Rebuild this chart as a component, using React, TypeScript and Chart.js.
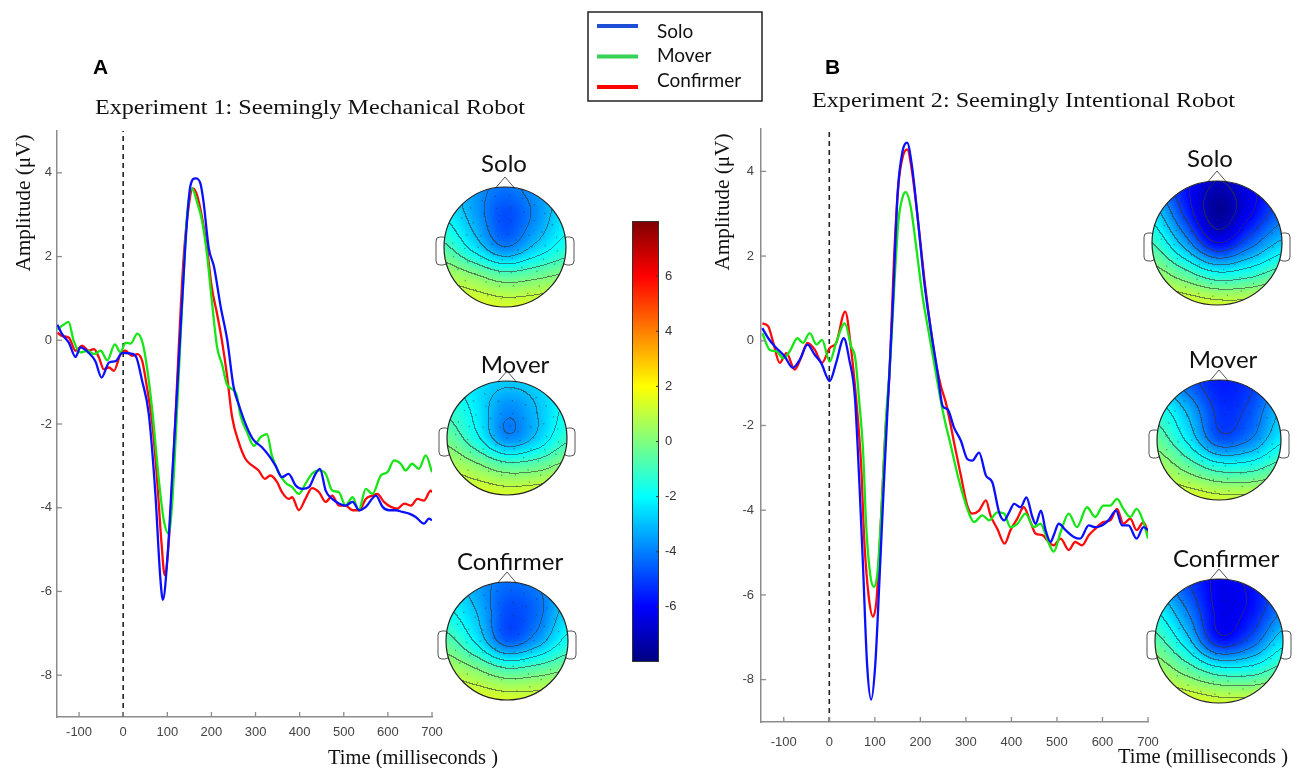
import React, { useEffect, useRef } from 'react';
import { Chart, registerables } from 'chart.js';

Chart.register(...registerables);

const W = 1295;
const H = 768;

// ---------- labels / ticks ----------
const SERIES_LABELS = ['Solo', 'Mover', 'Confirmer'];
const LINE_COLORS = ['#0a10ff', '#16e616', '#ff0a0a'];
const LEGEND_COLORS = ['#1f4fd6', '#35d256', '#ff0000'];
const X_TICKS = [-100, 0, 100, 200, 300, 400, 500, 600, 700];
const Y_TICKS = [-8, -6, -4, -2, 0, 2, 4];
const CBAR_TICKS = [-6, -4, -2, 0, 2, 4, 6];
const X_RANGE = [-150, 700];
const Y_RANGE = [-9, 5];
const CBAR_RANGE = [-8, 8];
const TITLE_A = 'Experiment 1: Seemingly Mechanical Robot';
const TITLE_B = 'Experiment 2: Seemingly Intentional Robot';
const Y_TITLE = 'Amplitude (\u03bcV)';
const X_TITLE = 'Time (milliseconds )';

// ---------- Experiment 1 waveforms (ms, µV) ----------
const A_SOLO_T = [-149, -138, -123, -108, -97, -78, -63, -49, -32, -17, -2, 13, 28, 43, 58, 73, 84, 90, 100, 111, 126, 141, 152, 164, 175, 182, 194, 206, 221, 236, 250, 264, 279, 294, 315, 330, 345, 360, 375, 391, 406, 421, 436, 446, 459, 474, 489, 504, 520, 535, 550, 573, 588, 603, 618, 633, 648, 663, 682, 693, 700];
const A_SOLO_V = [0.37, 0.14, -0.06, -0.4, -0.17, -0.3, -0.5, -0.89, -0.53, -0.5, -0.3, -0.31, -0.37, -0.97, -1.76, -3.67, -5.65, -6.2, -5.25, -3.27, -0.5, 2.29, 3.67, 3.87, 3.75, 3.32, 2.2, 1.75, 0.8, 0.0, -1.1, -1.6, -2.04, -2.36, -2.56, -2.75, -2.99, -3.27, -3.19, -3.47, -3.55, -3.51, -3.19, -3.07, -3.59, -3.79, -3.9, -3.95, -3.86, -4.06, -3.98, -3.71, -3.98, -4.06, -4.06, -4.1, -4.14, -4.22, -4.38, -4.26, -4.3];

const A_MOVER_T = [-149, -138, -124, -112, -97, -81, -66, -51, -36, -19, -6, 5, 17, 32, 44, 54, 66, 81, 92, 103, 111, 122, 133, 145, 156, 167, 179, 190, 201, 213, 224, 235, 247, 257, 266, 281, 296, 311, 326, 337, 352, 367, 383, 398, 413, 428, 444, 459, 474, 489, 504, 520, 534, 550, 565, 584, 599, 614, 629, 640, 655, 670, 686, 700];
const A_MOVER_V = [0.26, 0.35, 0.44, -0.02, -0.29, -0.25, -0.33, -0.25, -0.48, -0.1, -0.29, -0.06, -0.08, 0.16, -0.06, -0.65, -1.68, -3.35, -4.3, -4.62, -3.9, -1.68, 0.7, 3.0, 3.63, 3.32, 2.84, 2.05, 0.94, -0.17, -0.57, -1.05, -1.17, -1.3, -1.8, -2.2, -2.52, -2.32, -2.24, -2.75, -3.15, -3.39, -3.51, -3.67, -3.43, -3.19, -3.11, -3.19, -3.59, -3.63, -3.95, -3.75, -4.06, -3.55, -3.67, -3.23, -3.15, -2.87, -2.95, -3.11, -2.95, -3.07, -2.75, -3.15];

const A_CONF_T = [-149, -138, -123, -108, -93, -78, -66, -55, -44, -32, -21, -6, 5, 20, 32, 43, 54, 66, 77, 87, 94, 103, 115, 126, 137, 149, 158, 167, 179, 190, 201, 213, 224, 235, 247, 262, 277, 292, 307, 321, 334, 349, 360, 375, 383, 398, 413, 428, 444, 459, 474, 489, 504, 520, 535, 550, 565, 576, 591, 607, 622, 637, 652, 667, 682, 697, 700];
const A_CONF_V = [0.18, 0.1, 0.06, -0.25, -0.13, -0.25, -0.21, -0.41, -0.69, -0.65, -0.73, -0.33, -0.25, -0.37, -0.33, -0.49, -1.13, -2.0, -3.35, -4.86, -5.61, -4.86, -2.63, -0.17, 1.97, 3.24, 3.63, 3.48, 2.92, 2.2, 1.25, 0.62, -0.02, -0.81, -1.84, -2.44, -2.83, -2.99, -3.11, -3.31, -3.23, -3.39, -3.63, -3.79, -3.75, -4.06, -3.79, -3.53, -3.63, -3.86, -3.71, -3.95, -3.95, -4.06, -4.06, -3.79, -3.71, -3.67, -3.86, -3.98, -4.02, -3.9, -3.95, -3.79, -3.83, -3.59, -3.63];

// ---------- Experiment 2 waveforms (ms, µV) ----------
const B_SOLO_T = [-147, -134, -120, -98, -80, -65, -48, -32, -18, 1, 15, 32, 44, 56, 66, 74, 83, 92, 101, 110, 120, 128, 139, 150, 161, 171, 181, 194, 209, 223, 238, 249, 260, 274, 289, 303, 314, 329, 344, 358, 373, 384, 395, 406, 420, 433, 446, 453, 465, 475, 486, 493, 504, 519, 537, 551, 570, 584, 599, 613, 630, 643, 657, 675, 690, 700];
const B_SOLO_V = [0.3, 0.06, -0.13, -0.37, -0.64, -0.45, -0.09, -0.33, -0.52, -0.95, -0.52, 0.06, -0.45, -1.3, -3.34, -5.3, -7.64, -8.47, -7.64, -5.69, -3.34, -1.6, 0.73, 3.47, 4.48, 4.68, 4.17, 2.92, 1.35, 0.26, -0.76, -1.54, -1.62, -2.05, -2.36, -2.79, -2.83, -2.64, -3.18, -3.34, -4.05, -4.24, -4.05, -3.85, -3.93, -3.7, -4.16, -4.32, -4.01, -4.47, -4.75, -4.59, -4.32, -4.47, -4.63, -4.67, -4.36, -4.4, -4.36, -4.24, -4.01, -4.36, -4.36, -4.67, -4.4, -4.47];

const B_MOVER_T = [-147, -131, -116, -101, -87, -70, -58, -43, -28, -16, 1, 15, 34, 48, 57, 66, 74, 81, 90, 98, 106, 116, 125, 134, 143, 152, 161, 168, 179, 190, 205, 220, 234, 250, 267, 282, 296, 307, 318, 336, 351, 369, 384, 398, 413, 431, 449, 464, 478, 493, 508, 526, 544, 566, 584, 602, 617, 632, 646, 661, 675, 690, 700];
const B_MOVER_V = [0.18, -0.21, -0.25, -0.41, -0.25, 0.06, -0.05, 0.18, -0.09, 0.02, -0.49, -0.05, 0.41, -0.13, -0.41, -1.46, -2.56, -4.36, -5.53, -5.81, -5.45, -3.73, -1.78, -0.45, 1.35, 2.84, 3.39, 3.51, 3.15, 2.29, 1.04, 0.1, -0.76, -1.7, -2.48, -3.18, -3.73, -4.08, -4.28, -4.12, -4.24, -4.05, -4.08, -4.4, -4.32, -4.08, -4.4, -4.32, -4.67, -4.98, -4.52, -4.08, -4.4, -3.93, -4.16, -3.89, -3.89, -3.73, -3.97, -4.16, -3.97, -4.28, -4.67];

const B_CONF_T = [-147, -134, -123, -109, -94, -76, -61, -48, -32, -16, 1, 15, 35, 48, 59, 70, 77, 87, 96, 104, 114, 123, 132, 142, 152, 161, 171, 181, 194, 209, 223, 234, 245, 256, 267, 274, 289, 303, 314, 329, 344, 354, 369, 385, 398, 413, 427, 442, 453, 468, 482, 493, 508, 526, 540, 555, 570, 584, 602, 617, 632, 646, 661, 675, 690, 700];
const B_CONF_V = [0.41, 0.34, -0.05, -0.52, -0.29, -0.68, -0.37, -0.05, -0.21, -0.52, -0.17, -0.05, 0.69, -0.21, -1.38, -2.95, -4.75, -6.08, -6.51, -6.08, -4.12, -2.17, -0.84, 1.9, 3.7, 4.33, 4.52, 4.05, 2.92, 1.43, 0.26, -0.52, -1.07, -1.46, -2.01, -2.4, -3.18, -3.89, -4.08, -4.01, -3.77, -4.12, -4.44, -4.79, -4.47, -4.2, -3.93, -4.28, -4.55, -4.59, -4.75, -4.83, -4.67, -4.94, -4.75, -4.83, -4.59, -4.44, -4.28, -4.24, -3.97, -4.32, -4.2, -4.47, -4.28, -4.52];

// ---------- scalp maps: 5x5 grids of µV, rows front->back, cols left->right ----------
const TOPO_A_SOLO = [
  [-2.5, -3.6, -4.2, -3.6, -2.6],
  [-2.0, -3.4, -4.8, -3.8, -2.3],
  [-0.8, -2.4, -4.0, -2.8, -1.6],
  [0.8, 0.2, -0.5, -0.2, 0.2],
  [1.8, 1.6, 1.4, 1.5, 1.8],
];
const TOPO_A_MOVER = [
  [-1.8, -2.5, -2.8, -2.6, -2.0],
  [-1.2, -2.3, -3.8, -3.0, -1.8],
  [-0.3, -1.8, -3.8, -2.8, -1.2],
  [0.9, 0.2, -0.6, -0.4, 0.3],
  [1.8, 1.6, 1.4, 1.5, 1.7],
];
const TOPO_A_CONF = [
  [-2.3, -3.5, -4.3, -4.0, -3.0],
  [-1.8, -3.0, -4.8, -4.3, -2.6],
  [-0.6, -2.2, -4.5, -3.5, -1.7],
  [0.8, 0.1, -0.8, -0.5, 0.0],
  [1.8, 1.6, 1.4, 1.4, 1.7],
];
const TOPO_B_SOLO = [
  [-4.0, -5.8, -7.0, -6.3, -5.0],
  [-2.5, -5.2, -7.6, -6.2, -4.5],
  [-1.0, -3.4, -6.0, -4.5, -2.8],
  [0.5, -0.6, -1.8, -1.4, -0.5],
  [1.8, 1.6, 1.3, 1.3, 1.6],
];
const TOPO_B_MOVER = [
  [-3.0, -4.6, -5.6, -5.2, -4.0],
  [-1.5, -3.2, -5.2, -4.8, -3.0],
  [-0.4, -2.2, -4.6, -4.0, -2.2],
  [0.8, -0.2, -1.2, -1.2, -0.4],
  [1.8, 1.6, 1.3, 1.3, 1.5],
];
const TOPO_B_CONF = [
  [-3.5, -5.0, -6.2, -5.8, -4.5],
  [-2.0, -4.0, -6.2, -5.8, -4.0],
  [-0.6, -2.6, -5.6, -4.6, -2.4],
  [0.7, -0.3, -1.4, -1.4, -0.5],
  [1.8, 1.6, 1.3, 1.3, 1.6],
];

// ---------- layout (positions only) ----------
const AXIS_COLOR = '#8c8c8c';
const TICK_COLOR = '#444';
const SERIF = '"Liberation Serif", "DejaVu Serif", serif';
const SANS = '"Liberation Sans", Arial, sans-serif';
const CAL = 'Lato, "Open Sans", sans-serif';

const PANEL_A = {
  padding: { left: 17, right: 863, top: 131, bottom: 11 },
  xPad: 8,
  yPad: 5,
  letter: { text: 'A', x: 93, y: 74 },
  title: { text: TITLE_A, x: 95, y: 114, w: 430 },
  yTitle: { x: 25, y: 203, w: 137 },
  xTitle: { x: 328, y: 764, w: 170 },
  heads: [
    { label: SERIES_LABELS[0], grid: TOPO_A_SOLO, cx: 505, cy: 247, rx: 61, ry: 60, tx: 504, ty: 172 },
    { label: SERIES_LABELS[1], grid: TOPO_A_MOVER, cx: 507, cy: 438, rx: 60, ry: 57, tx: 515, ty: 373 },
    { label: SERIES_LABELS[2], grid: TOPO_A_CONF, cx: 507, cy: 641, rx: 61, ry: 59, tx: 510, ty: 570 },
  ],
  colorbar: true,
  legend: true,
};

const PANEL_B = {
  padding: { left: 721, right: 147, top: 129, bottom: 6 },
  xPad: 13,
  yPad: 7,
  letter: { text: 'B', x: 825, y: 74 },
  title: { text: TITLE_B, x: 812, y: 107, w: 423 },
  yTitle: { x: 724, y: 202, w: 137 },
  xTitle: { x: 1118, y: 763, w: 170 },
  heads: [
    { label: SERIES_LABELS[0], grid: TOPO_B_SOLO, cx: 1217, cy: 243, rx: 65, ry: 62, tx: 1210, ty: 167 },
    { label: SERIES_LABELS[1], grid: TOPO_B_MOVER, cx: 1219, cy: 440, rx: 62, ry: 60, tx: 1223, ty: 368 },
    { label: SERIES_LABELS[2], grid: TOPO_B_CONF, cx: 1219, cy: 641, rx: 64, ry: 62, tx: 1226, ty: 567 },
  ],
  colorbar: false,
  legend: false,
};

// ---------- helpers ----------
function clamp01(v: number) {
  return Math.max(0, Math.min(1, v));
}
function jet(v: number): [number, number, number] {
  const t = clamp01((v - CBAR_RANGE[0]) / (CBAR_RANGE[1] - CBAR_RANGE[0]));
  const r = clamp01(1.5 - Math.abs(4 * t - 3));
  const g = clamp01(1.5 - Math.abs(4 * t - 2));
  const b = clamp01(1.5 - Math.abs(4 * t - 1));
  return [r * 255, g * 255, b * 255];
}
function catmull(p0: number, p1: number, p2: number, p3: number, t: number) {
  return 0.5 * (2 * p1 + (-p0 + p2) * t + (2 * p0 - 5 * p1 + 4 * p2 - p3) * t * t + (-p0 + 3 * p1 - 3 * p2 + p3) * t * t * t);
}
function fieldValue(grid: number[][], nx: number, ny: number) {
  const n = grid.length - 1;
  const m = grid[0].length - 1;
  const fx = Math.max(0, Math.min(m, ((nx + 1) / 2) * m));
  const fy = Math.max(0, Math.min(n, ((ny + 1) / 2) * n));
  const j = Math.min(Math.floor(fx), m - 1);
  const i = Math.min(Math.floor(fy), n - 1);
  const tx = fx - j;
  const ty = fy - i;
  const g = (r: number, c: number) => grid[Math.max(0, Math.min(n, r))][Math.max(0, Math.min(m, c))];
  const rows = [-1, 0, 1, 2].map((di) => catmull(g(i + di, j - 1), g(i + di, j), g(i + di, j + 1), g(i + di, j + 2), tx));
  return catmull(rows[0], rows[1], rows[2], rows[3], ty);
}
function topoCanvas(grid: number[][], rx: number, ry: number) {
  const w = Math.ceil(2 * rx) + 2;
  const h = Math.ceil(2 * ry) + 2;
  const c = document.createElement('canvas');
  c.width = w;
  c.height = h;
  const g = c.getContext('2d')!;
  const img = g.createImageData(w, h);
  const vals = new Float32Array(w * h);
  for (let y = 0; y < h; y++) {
    for (let x = 0; x < w; x++) {
      const nx = (x + 0.5 - w / 2) / rx;
      const ny = (y + 0.5 - h / 2) / ry;
      vals[y * w + x] = fieldValue(grid, nx, ny);
    }
  }
  for (let y = 0; y < h; y++) {
    for (let x = 0; x < w; x++) {
      const i = y * w + x;
      const v = vals[i];
      let [r, gg, b] = jet(v);
      const k = Math.floor(v);
      const edge =
        (x + 1 < w && Math.floor(vals[i + 1]) !== k) || (y + 1 < h && Math.floor(vals[i + w]) !== k);
      if (edge) {
        r = r * 0.4 + 55 * 0.6;
        gg = gg * 0.4 + 55 * 0.6;
        b = b * 0.4 + 55 * 0.6;
      }
      img.data[i * 4] = r;
      img.data[i * 4 + 1] = gg;
      img.data[i * 4 + 2] = b;
      img.data[i * 4 + 3] = 255;
    }
  }
  g.putImageData(img, 0, 0);
  return c;
}
function fitText(ctx: CanvasRenderingContext2D, text: string, x: number, y: number, w: number, font: string, color: string) {
  ctx.save();
  ctx.font = font;
  ctx.fillStyle = color;
  ctx.textAlign = 'left';
  ctx.textBaseline = 'alphabetic';
  const m = ctx.measureText(text).width;
  ctx.translate(x, y);
  ctx.scale(w / m, 1);
  ctx.fillText(text, 0, 0);
  ctx.restore();
}

function drawHead(ctx: CanvasRenderingContext2D, hd: any) {
  const { cx, cy, rx, ry } = hd;
  ctx.save();
  ctx.lineWidth = 1;
  ctx.strokeStyle = '#555';
  ctx.fillStyle = '#fff';
  // ears
  for (const side of [-1, 1]) {
    const ex = side < 0 ? cx - rx - 8 : cx + rx - 3;
    ctx.beginPath();
    (ctx as any).roundRect(ex, cy - 10, 11, 28, 4);
    ctx.fill();
    ctx.stroke();
  }
  // nose
  ctx.beginPath();
  ctx.moveTo(cx - 12, cy - ry + 4);
  ctx.lineTo(cx, cy - ry - 10);
  ctx.lineTo(cx + 12, cy - ry + 4);
  ctx.closePath();
  ctx.fill();
  ctx.stroke();
  // map
  if (!hd._img) hd._img = topoCanvas(hd.grid, rx, ry);
  const img = hd._img as HTMLCanvasElement;
  ctx.save();
  ctx.beginPath();
  ctx.ellipse(cx, cy, rx, ry, 0, 0, Math.PI * 2);
  ctx.clip();
  ctx.drawImage(img, cx - img.width / 2, cy - img.height / 2);
  // electrodes
  ctx.fillStyle = 'rgba(40,40,40,0.45)';
  const rings = [
    [0, 1],
    [0.22, 8],
    [0.44, 14],
    [0.66, 18],
    [0.86, 24],
  ];
  for (const [rr, n] of rings) {
    for (let k = 0; k < n; k++) {
      const a = (k / n) * Math.PI * 2 + rr;
      ctx.fillRect(cx + Math.cos(a) * rr * rx - 0.6, cy + Math.sin(a) * rr * ry - 0.6, 1.3, 1.3);
    }
  }
  ctx.restore();
  ctx.beginPath();
  ctx.ellipse(cx, cy, rx, ry, 0, 0, Math.PI * 2);
  ctx.strokeStyle = '#222';
  ctx.lineWidth = 1.2;
  ctx.stroke();
  // label
  ctx.font = `24px ${CAL}`;
  ctx.fillStyle = '#111';
  ctx.textAlign = 'center';
  ctx.textBaseline = 'alphabetic';
  ctx.fillText(hd.label, hd.tx, hd.ty);
  ctx.restore();
}

function drawColorbar(ctx: CanvasRenderingContext2D) {
  const x0 = 632;
  const x1 = 659;
  const top = 221;
  const bot = 662;
  const grad = ctx.createLinearGradient(0, bot, 0, top);
  for (let s = 0; s <= 16; s++) {
    const v = CBAR_RANGE[0] + ((CBAR_RANGE[1] - CBAR_RANGE[0]) * s) / 16;
    const [r, g, b] = jet(v);
    grad.addColorStop(s / 16, `rgb(${r | 0},${g | 0},${b | 0})`);
  }
  ctx.save();
  ctx.fillStyle = grad;
  ctx.fillRect(x0, top, x1 - x0, bot - top);
  ctx.strokeStyle = '#333';
  ctx.lineWidth = 1;
  ctx.strokeRect(x0 + 0.5, top + 0.5, x1 - x0 - 1, bot - top - 1);
  ctx.font = `13px ${SANS}`;
  ctx.fillStyle = '#333';
  ctx.textAlign = 'left';
  ctx.textBaseline = 'middle';
  for (const v of CBAR_TICKS) {
    const py = bot - ((v - CBAR_RANGE[0]) / (CBAR_RANGE[1] - CBAR_RANGE[0])) * (bot - top);
    ctx.beginPath();
    ctx.moveTo(x1 - 3, py);
    ctx.lineTo(x1, py);
    ctx.stroke();
    ctx.fillText(String(v), x1 + 6, py);
  }
  ctx.restore();
}

function drawLegend(ctx: CanvasRenderingContext2D) {
  ctx.save();
  ctx.strokeStyle = '#222';
  ctx.lineWidth = 1.5;
  ctx.strokeRect(588, 12, 174, 89);
  const lineY = [26, 56.5, 87];
  const textY = [38, 62, 87];
  SERIES_LABELS.forEach((lab, i) => {
    ctx.strokeStyle = LEGEND_COLORS[i];
    ctx.lineWidth = 4;
    ctx.beginPath();
    ctx.moveTo(597, lineY[i]);
    ctx.lineTo(638, lineY[i]);
    ctx.stroke();
    ctx.font = `19px ${CAL}`;
    ctx.fillStyle = '#111';
    ctx.textAlign = 'left';
    ctx.textBaseline = 'alphabetic';
    ctx.fillText(lab, 657, textY[i]);
  });
  ctx.restore();
}

function decorPlugin(panel: any) {
  return {
    id: 'decor',
    afterDraw(chart: any) {
      const ctx: CanvasRenderingContext2D = chart.ctx;
      const xs = chart.scales.x;
      const ys = chart.scales.y;
      ctx.save();
      // inward ticks
      ctx.strokeStyle = AXIS_COLOR;
      ctx.lineWidth = 1.3;
      for (const v of X_TICKS) {
        const px = xs.getPixelForValue(v);
        ctx.beginPath();
        ctx.moveTo(px, ys.bottom);
        ctx.lineTo(px, ys.bottom - 5);
        ctx.stroke();
      }
      for (const v of Y_TICKS) {
        const py = ys.getPixelForValue(v);
        ctx.beginPath();
        ctx.moveTo(xs.left, py);
        ctx.lineTo(xs.left + 5, py);
        ctx.stroke();
      }
      // letter
      ctx.font = `bold 21px ${SANS}`;
      ctx.fillStyle = '#000';
      ctx.textAlign = 'left';
      ctx.textBaseline = 'alphabetic';
      ctx.fillText(panel.letter.text, panel.letter.x, panel.letter.y);
      // title
      fitText(ctx, panel.title.text, panel.title.x, panel.title.y, panel.title.w, `22px ${SERIF}`, '#111');
      // y title (rotated)
      ctx.save();
      ctx.translate(panel.yTitle.x, panel.yTitle.y);
      ctx.rotate(-Math.PI / 2);
      ctx.font = `20px ${SERIF}`;
      const m = ctx.measureText(Y_TITLE).width;
      ctx.scale(panel.yTitle.w / m, 1);
      ctx.fillStyle = '#111';
      ctx.textAlign = 'center';
      ctx.textBaseline = 'middle';
      ctx.fillText(Y_TITLE, 0, 0);
      ctx.restore();
      // x title
      fitText(ctx, X_TITLE, panel.xTitle.x, panel.xTitle.y, panel.xTitle.w, `20px ${SERIF}`, '#111');
      // scalp maps
      for (const hd of panel.heads) drawHead(ctx, hd);
      if (panel.colorbar) drawColorbar(ctx);
      if (panel.legend) drawLegend(ctx);
      ctx.restore();
    },
  };
}

function makeConfig(panel: any, series: { t: number[]; v: number[] }[]): any {
  const datasets: any[] = series.map((s, i) => ({
    label: SERIES_LABELS[i],
    data: s.t.map((t, k) => ({ x: t, y: s.v[k] })),
    borderColor: LINE_COLORS[i],
    borderWidth: 2.3,
    pointRadius: 0,
    fill: false,
    cubicInterpolationMode: 'monotone',
  }));
  datasets.push({
    label: 'onset',
    data: [
      { x: 0, y: Y_RANGE[0] },
      { x: 0, y: Y_RANGE[1] },
    ],
    borderColor: '#222',
    borderWidth: 1.6,
    borderDash: [5, 4],
    pointRadius: 0,
    fill: false,
  });
  return {
    type: 'line',
    data: { datasets },
    options: {
      responsive: false,
      animation: false,
      events: [],
      layout: { padding: panel.padding },
      plugins: { legend: { display: false }, tooltip: { enabled: false }, title: { display: false } },
      scales: {
        x: {
          type: 'linear',
          min: X_RANGE[0],
          max: X_RANGE[1],
          afterBuildTicks: (s: any) => {
            s.ticks = X_TICKS.map((v) => ({ value: v }));
          },
          afterFit: (s: any) => {
            s.height = 40;
          },
          grid: { display: true, drawOnChartArea: false, drawTicks: false },
          border: { display: true, color: AXIS_COLOR, width: 1.5 },
          ticks: { color: TICK_COLOR, font: { family: SANS, size: 13 }, padding: panel.xPad, maxRotation: 0, autoSkip: false },
        },
        y: {
          type: 'linear',
          min: Y_RANGE[0],
          max: Y_RANGE[1],
          afterBuildTicks: (s: any) => {
            s.ticks = Y_TICKS.map((v) => ({ value: v }));
          },
          afterFit: (s: any) => {
            s.width = 40;
          },
          grid: { display: true, drawOnChartArea: false, drawTicks: false },
          border: { display: true, color: AXIS_COLOR, width: 1.5 },
          ticks: { color: TICK_COLOR, font: { family: SANS, size: 13 }, padding: panel.yPad, autoSkip: false },
        },
      },
    },
    plugins: [decorPlugin(panel)],
  };
}

export default function App() {
  const refA = useRef<HTMLCanvasElement>(null);
  const refB = useRef<HTMLCanvasElement>(null);
  useEffect(() => {
    const a = new Chart(
      refA.current!,
      makeConfig(PANEL_A, [
        { t: A_SOLO_T, v: A_SOLO_V },
        { t: A_MOVER_T, v: A_MOVER_V },
        { t: A_CONF_T, v: A_CONF_V },
      ])
    );
    const b = new Chart(
      refB.current!,
      makeConfig(PANEL_B, [
        { t: B_SOLO_T, v: B_SOLO_V },
        { t: B_MOVER_T, v: B_MOVER_V },
        { t: B_CONF_T, v: B_CONF_V },
      ])
    );
    return () => {
      a.destroy();
      b.destroy();
    };
  }, []);
  const cs: React.CSSProperties = { position: 'absolute', left: 0, top: 0, width: W, height: H };
  return (
    <div style={{ position: 'absolute', left: 0, top: 0, width: W, height: H, background: '#fff', overflow: 'hidden' }}>
      <canvas ref={refA} width={W} height={H} style={cs} />
      <canvas ref={refB} width={W} height={H} style={cs} />
    </div>
  );
}
